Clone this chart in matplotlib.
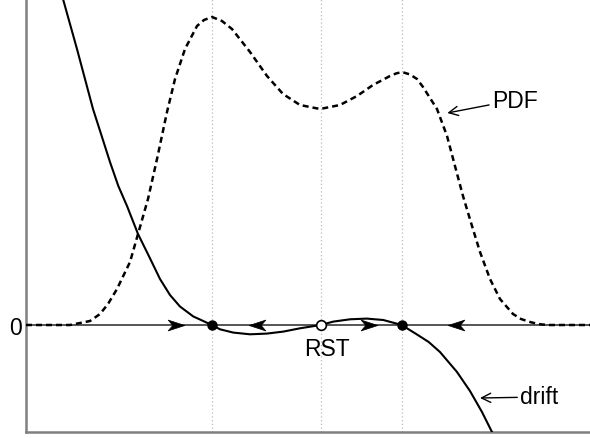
import matplotlib
matplotlib.use("Agg")
import matplotlib.pyplot as plt
from matplotlib.path import Path

plt.rcParams['font.family'] = ['Liberation Sans', 'DejaVu Sans']

# PDF (dashed curve)
pdf_x = [0.0, 0.78, 0.957, 1.135, 1.312, 1.454, 1.613, 1.844, 1.986, 2.163, 2.323,
         2.500, 2.642, 2.819, 3.032, 3.156, 3.298, 3.475, 3.652, 3.972, 4.273,
         4.557, 4.858, 5.213, 5.567, 5.869, 6.152, 6.454, 6.560, 6.667, 6.810,
         6.933, 7.039, 7.287, 7.465, 7.606, 7.748, 7.908, 8.050, 8.227, 8.404,
         8.635, 8.777, 8.936, 9.080, 9.238, 10.0]
pdf_y = [0.0, 0.0, 0.02, 0.04, 0.11, 0.21, 0.36, 0.63, 0.91, 1.26, 1.66,
         2.13, 2.46, 2.76, 2.99, 3.05, 3.08, 3.04, 2.96, 2.73, 2.49,
         2.31, 2.20, 2.16, 2.20, 2.29, 2.40, 2.49, 2.515, 2.53, 2.505,
         2.46, 2.38, 2.16, 1.89, 1.59, 1.29, 0.99, 0.73, 0.46, 0.26,
         0.11, 0.06, 0.03, 0.01, 0.0, 0.0]

# drift (solid curve)
drift_x = [0.656, 0.904, 1.046, 1.188, 1.342, 1.489, 1.637, 1.791, 1.986, 2.187,
           2.376, 2.553, 2.730, 2.967, 3.085, 3.293, 3.440, 3.676, 3.972, 4.268,
           4.562, 4.858, 5.225, 5.449, 5.745, 6.041, 6.335, 6.661, 6.927, 7.140,
           7.340, 7.642, 7.872, 8.085, 8.262]
drift_y = [3.26, 2.76, 2.46, 2.16, 1.89, 1.63, 1.39, 1.19, 0.91, 0.68,
           0.46, 0.30, 0.185, 0.085, 0.055, 0.0, -0.043, -0.076, -0.093, -0.086,
           -0.066, -0.033, 0.0, 0.034, 0.057, 0.064, 0.05, 0.0, -0.093, -0.17,
           -0.27, -0.47, -0.66, -0.87, -1.07]

# fixed points
stable_x = [3.293, 6.661]
unstable_x = [5.225]
# flow arrows on the zero line: position, direction (+1 right, -1 left)
flow_x = [2.66, 4.10, 6.08, 7.62]
flow_dir = [1, -1, 1, -1]

fig = plt.figure(figsize=(5.9, 4.39), dpi=100)
ax = fig.add_axes([26/590, 6/439, 564/590, 433/439])
ax.set_xlim(0, 10)
ax.set_ylim(-1.07, 3.26)

for s in ['top', 'right']:
    ax.spines[s].set_visible(False)
for s in ['left', 'bottom']:
    ax.spines[s].set_color('#808080')
    ax.spines[s].set_linewidth(1.8)
ax.set_xticks([])
ax.set_yticks([0])
ax.set_yticklabels(['0'])
ax.tick_params(axis='y', length=0, pad=3, labelsize=16.5)

# vertical dotted guide lines
for xv in stable_x + unstable_x:
    ax.axvline(xv, color='#bbbbbb', lw=0.9, ls=(0, (1, 2)), zorder=1)

# zero line
ax.axhline(0, color='#555555', lw=1.4, zorder=2)

ax.plot(pdf_x, pdf_y, color='black', lw=1.8, ls=(0, (2.4, 1.6)), zorder=3)
ax.plot(drift_x, drift_y, color='black', lw=1.5, zorder=4, solid_joinstyle='round')

# flow arrowheads (stealth shape)
right_head = Path([(1.0, 0.0), (-1.0, 0.65), (-0.45, 0.0), (-1.0, -0.65), (1.0, 0.0)],
                  [Path.MOVETO, Path.LINETO, Path.LINETO, Path.LINETO, Path.CLOSEPOLY])
left_head = Path([(-1.0, 0.0), (1.0, 0.65), (0.45, 0.0), (1.0, -0.65), (-1.0, 0.0)],
                 [Path.MOVETO, Path.LINETO, Path.LINETO, Path.LINETO, Path.CLOSEPOLY])
for xv, d in zip(flow_x, flow_dir):
    ax.plot([xv], [0], marker=right_head if d > 0 else left_head, ms=12,
            color='black', mec='black', mew=0.5, zorder=5)

ax.plot(stable_x, [0]*len(stable_x), 'o', color='black', ms=6.5, zorder=6)
ax.plot(unstable_x, [0]*len(unstable_x), 'o', mfc='white', mec='black', mew=1.2,
        ms=7, zorder=6)

ax.text(5.34, -0.24, 'RST', fontsize=16.5, ha='center', va='center')

ax.annotate('PDF', xy=(7.47, 2.12), xytext=(8.26, 2.25), fontsize=16.5,
            ha='left', va='center',
            arrowprops=dict(arrowstyle='->', color='black', lw=1.0,
                            shrinkA=0, shrinkB=0))
ax.annotate('drift', xy=(8.05, -0.73), xytext=(8.76, -0.72), fontsize=16.5,
            ha='left', va='center',
            arrowprops=dict(arrowstyle='->', color='black', lw=1.0,
                            shrinkA=0, shrinkB=0))

fig.savefig('out.png', dpi=100)
